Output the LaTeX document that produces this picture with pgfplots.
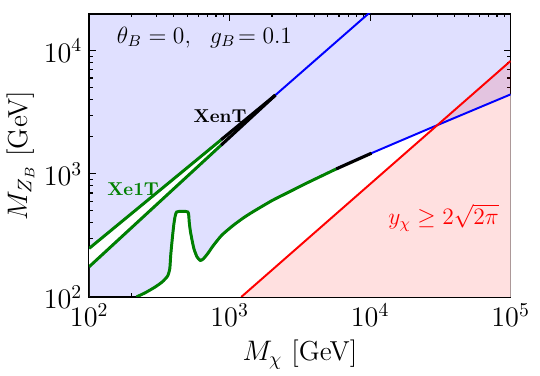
\documentclass[border=0pt]{standalone}
\usepackage{pgfplots}
\pgfplotsset{compat=1.18}
\usetikzlibrary{calc}
\definecolor{bgblue}{RGB}{224,224,255}
\definecolor{mplgreen}{RGB}{0,128,0}
\begin{document}
\begin{tikzpicture}
\begin{axis}[
  scale only axis,
  width=215pt, height=144.5pt,
  xmode=log, ymode=log,
  xmin=100, xmax=1e5, ymin=100, ymax=2e4,
  axis background/.style={fill=bgblue},
  tick align=inside,
  xtick pos=both, ytick pos=both,
  axis line style={line width=0.9pt},
  major tick length=3.5pt, minor tick length=1.8pt,
  every tick/.style={black, line width=0.6pt},
  tick label style={font=\fontsize{14}{16}\selectfont},
  label style={font=\fontsize{14}{16}\selectfont},
  xlabel={$M_\chi$ [GeV]},
  ylabel={$M_{Z_B}$ [GeV]},
  ylabel style={yshift=-2pt},
  clip=true,
]
% allowed (white) regions
\addplot[fill=white, draw=none] coordinates {
  (100,248) (2118,4365) (100,176)
} \closedcycle;
\addplot[fill=white, draw=none] coordinates {
  (217,100) (250,108) (292,119.6) (330,132) (362,148) (375,170) (381,221)
  (392,310) (403,408) (420,490) (504,490) (515,410) (526,339) (555,250)
  (585,212) (618,198) (650,204) (700,226) (766,262) (880,318) (1056,380)
  (1250,438) (1457,490) (2010,608) (2770,731) (3430,827) (5735,1096)
  (10230,1472) (28460,2421) (100000,4420) (100000,100)
};
% perturbativity region
\addplot[fill=red, fill opacity=0.12, draw=none] coordinates {
  (1210,100) (100000,8264) (100000,100)
};
% full contours
\addplot[blue, line width=1pt] coordinates {(100,248) (2118,4365) (12000,24700)};
\addplot[blue, line width=1pt] coordinates {(100,176) (2118,4365)};
\addplot[blue, line width=1pt, smooth, tension=0.35] coordinates {
  (217,100) (250,108) (292,119.6) (330,132) (362,148) (375,170) (381,221)
  (392,310) (403,408) (420,490) (504,490) (515,410) (526,339) (555,250)
  (585,212) (618,198) (650,204) (700,226) (766,262) (880,318) (1056,380)
  (1250,438) (1457,490) (2010,608) (2770,731) (3430,827) (5735,1096)
  (10230,1472) (28460,2421) (100000,4420)
};
\addplot[red, line width=1pt] coordinates {(1210,100) (100000,8264)};
% Xe1T
\addplot[mplgreen, line width=1.5pt] coordinates {(100,248) (870,1892)};
\addplot[mplgreen, line width=1.5pt] coordinates {(100,176) (870,1712)};
\addplot[mplgreen, line width=1.5pt, smooth, tension=0.35] coordinates {
  (217,100) (250,108) (292,119.6) (330,132) (362,148) (375,170) (381,221)
  (392,310) (403,408) (420,490) (504,490) (515,410) (526,339) (555,250)
  (585,212) (618,198) (650,204) (700,226) (766,262) (880,318) (1056,380)
  (1250,438) (1457,490) (2010,608) (2770,731) (3430,827) (5735,1096)
};
% XenT
\addplot[black, line width=1.6pt] coordinates {(870,1892) (2118,4365)};
\addplot[black, line width=1.6pt] coordinates {(870,1712) (2118,4365)};
\addplot[black, line width=1.6pt] coordinates {(5735,1096) (10230,1472)};
\node[anchor=west, inner sep=0pt, font=\fontsize{12}{14}\selectfont] at (rel axis cs:0.065,0.917)
  {$\theta_B=0,\ \ g_B\!=0.1$};
\node[anchor=west, inner sep=0pt, font=\fontsize{9.5}{11}\selectfont\bfseries] at (rel axis cs:0.247,0.64) {XenT};
\node[anchor=west, inner sep=0pt, text=mplgreen, font=\fontsize{9.5}{11}\selectfont\bfseries] at (rel axis cs:0.042,0.381) {Xe1T};
\node[anchor=west, inner sep=0pt, text=red, font=\fontsize{11.5}{13}\selectfont] at (rel axis cs:0.709,0.28)
  {$y_\chi \geq 2\sqrt{2\pi}$};
\end{axis}
\path[use as bounding box] ($(current axis.south west)+(-40pt,-38.5pt)$) rectangle ($(current axis.north east)+(15pt,7pt)$);
\end{tikzpicture}
\end{document}
